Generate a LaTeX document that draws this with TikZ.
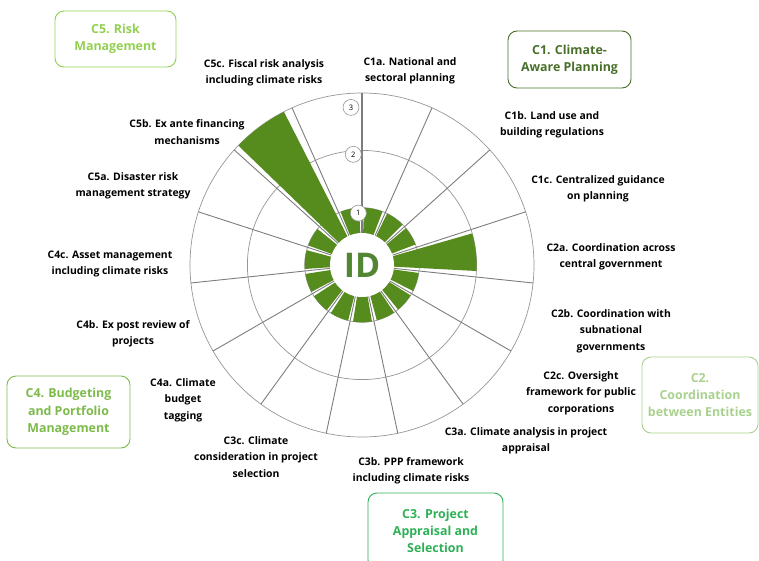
\documentclass[tikz,border=0pt]{standalone}
\usepackage{fontspec}
\setmainfont{Open Sans}
\definecolor{barg}{RGB}{86,139,30}
\definecolor{idg}{RGB}{82,134,52}
\definecolor{cone}{RGB}{72,110,42}
\definecolor{ctwo}{RGB}{169,209,142}
\definecolor{cthree}{RGB}{46,176,86}
\definecolor{cfour}{RGB}{124,186,74}
\definecolor{cfive}{RGB}{146,208,80}
\definecolor{gridc}{RGB}{150,150,150}
\definecolor{spokec}{RGB}{125,125,125}
\begin{document}
\begin{tikzpicture}[x=1pt,y=1pt,
  lbl/.style={align=center,font=\bfseries\fontsize{10.4}{16.3}\selectfont,text=black,inner sep=0pt},
  catbox/.style={draw,rounded corners=9pt,line width=0.9pt,align=center,
    font=\bfseries\fontsize{12.4}{17.3}\selectfont,inner sep=0pt},
  lev/.style={circle,draw=gridc,fill=white,line width=0.6pt,minimum size=16pt,inner sep=0pt,
    font=\fontsize{7.5}{8}\selectfont}]
\useasboundingbox (0,0) rectangle (759,-561);
\begin{scope}[shift={(362,-265)}]
  \draw[gridc,line width=0.7pt] (0,0) circle[radius=172];
  \draw[gridc,line width=0.7pt] (0,0) circle[radius=114.6];
  \draw[gridc,line width=0.7pt] (0,0) circle[radius=57.3];
  \foreach \i in {0,...,14}{
    \draw[spokec,line width=0.9pt] ({90-24*\i}:32) -- ({90-24*\i}:172);
  }
  \draw[spokec,line width=1.5pt] (90:32) -- (90:172);
  \foreach \v [count=\k from 0] in {1,1,1,2,1,1,1,1,1,1,1,1,1,3,1}{
    \pgfmathsetmacro\ahi{90-24*\k-2}
    \pgfmathsetmacro\alo{90-24*(\k+1)+3}
    \pgfmathsetmacro\R{57.3*\v}
    \fill[barg] (0,0) -- (\alo:\R) arc[start angle=\alo,end angle=\ahi,radius=\R] -- cycle;
  }
  \fill[white] (0,0) circle[radius=32];
  \node[text=idg,font=\bfseries\fontsize{34}{34}\selectfont,inner sep=0pt] (id) at (0,0) {ID};
  \node[lev] (l1) at (94:52) {1};
  \node[lev] (l2) at (94.5:111) {2};
  \node[lev] (l3) at (94:158) {3};
\end{scope}
% sub-labels
\node[lbl] (c1a) at (410,-71) {C1a. National and\\sectoral planning};
\node[lbl] (c1b) at (552,-125) {C1b. Land use and\\building regulations};
\node[lbl] (c1c) at (598,-189) {C1c. Centralized guidance\\on planning};
\node[lbl] (c2a) at (611,-257) {C2a. Coordination across\\central government};
\node[lbl] (c2b) at (611,-331) {C2b. Coordination with\\subnational\\governments};
\node[lbl] (c2c) at (581,-393) {C2c. Oversight\\framework for public\\corporations};
\node[lbl] (c3a) at (526,-441) {C3a. Climate analysis in project\\appraisal};
\node[lbl] (c3b) at (411,-471) {C3b. PPP framework\\including climate risks};
\node[lbl] (c3c) at (256,-457) {C3c. Climate\\consideration in project\\selection};
\node[lbl] (c4a) at (183,-400) {C4a. Climate\\budget\\tagging};
\node[lbl] (c4b) at (133,-334) {C4b. Ex post review of\\projects};
\node[lbl] (c4c) at (110,-264) {C4c. Asset management\\including climate risks};
\node[lbl] (c5a) at (133,-186) {C5a. Disaster risk\\management strategy};
\node[lbl] (c5b) at (187,-132) {C5b. Ex ante financing\\mechanisms};
\node[lbl] (c5c) at (264,-73) {C5c. Fiscal risk analysis\\including climate risks};
% category boxes
\node[catbox,draw=cone,text=cone,minimum width=123pt,minimum height=57pt] (C1) at (569.5,-59.5) {C1. Climate-\\Aware Planning};
\node[catbox,draw=ctwo,text=ctwo,minimum width=116pt,minimum height=76pt] (C2) at (700,-395) {C2.\\Coordination\\between Entities};
\node[catbox,draw=cthree,text=cthree,minimum width=135pt,minimum height=76pt] (C3) at (435.5,-531) {C3. Project\\Appraisal and\\Selection};
\node[catbox,draw=cfour,text=cfour,minimum width=123pt,minimum height=72pt] (C4) at (68.5,-412) {C4. Budgeting\\and Portfolio\\Management};
\node[catbox,draw=cfive,text=cfive,minimum width=121pt,minimum height=56pt] (C5) at (115.5,-39) {C5. Risk\\Management};
\end{tikzpicture}
\end{document}
